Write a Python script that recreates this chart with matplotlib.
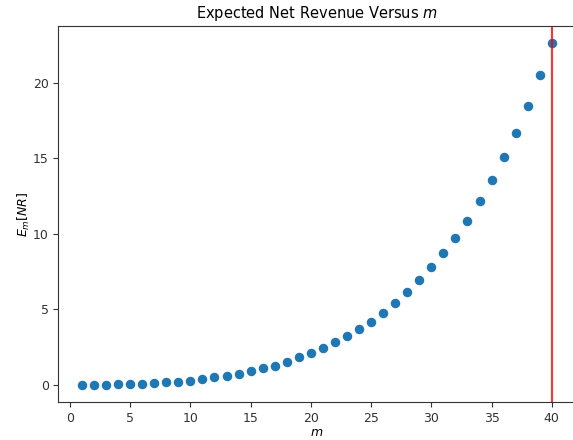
import numpy as np
import matplotlib
matplotlib.use('Agg')
import matplotlib.pyplot as plt

# expected net revenue, m = 1..40
m = list(range(1, 41))
nr = [0.0, 0.0, 0.0, 0.07, 0.07, 0.07, 0.13, 0.2, 0.2, 0.29,
      0.37, 0.53, 0.59, 0.75, 0.9, 1.14, 1.28, 1.52, 1.84, 2.13,
      2.42, 2.82, 3.26, 3.72, 4.18, 4.77, 5.39, 6.14, 6.91, 7.77,
      8.73, 9.72, 10.87, 12.17, 13.55, 15.07, 16.65, 18.48, 20.5, 22.62]
best_m = 40

plt.rcParams['font.family'] = 'DejaVu Sans'
plt.rcParams['axes.edgecolor'] = '#333333'
plt.rcParams['xtick.color'] = '#333333'
plt.rcParams['ytick.color'] = '#333333'

fig = plt.figure(figsize=(5.73, 4.4), dpi=100)
ax = fig.add_axes([0.102, 0.0864, 0.902, 0.8545])
ax.scatter(m, nr, s=34, color='#1f77b4')
ax.axvline(best_m, color='red', alpha=0.8, linewidth=1.5)
ax.set_title('Expected Net Revenue Versus $m$', fontsize=10.5)
ax.set_xlabel('$m$', fontsize=9, labelpad=1)
ax.set_ylabel('$E_m[NR]$', fontsize=9, labelpad=0.5)
ax.tick_params(labelsize=9)
ax.set_xlim(-0.95, 41.95)
ax.set_xticks(range(0, 41, 5))
ax.set_yticks(range(0, 21, 5))
# the original image is cropped just before the right frame
ax.spines['right'].set_visible(False)
plt.savefig('out.png', dpi=100)
